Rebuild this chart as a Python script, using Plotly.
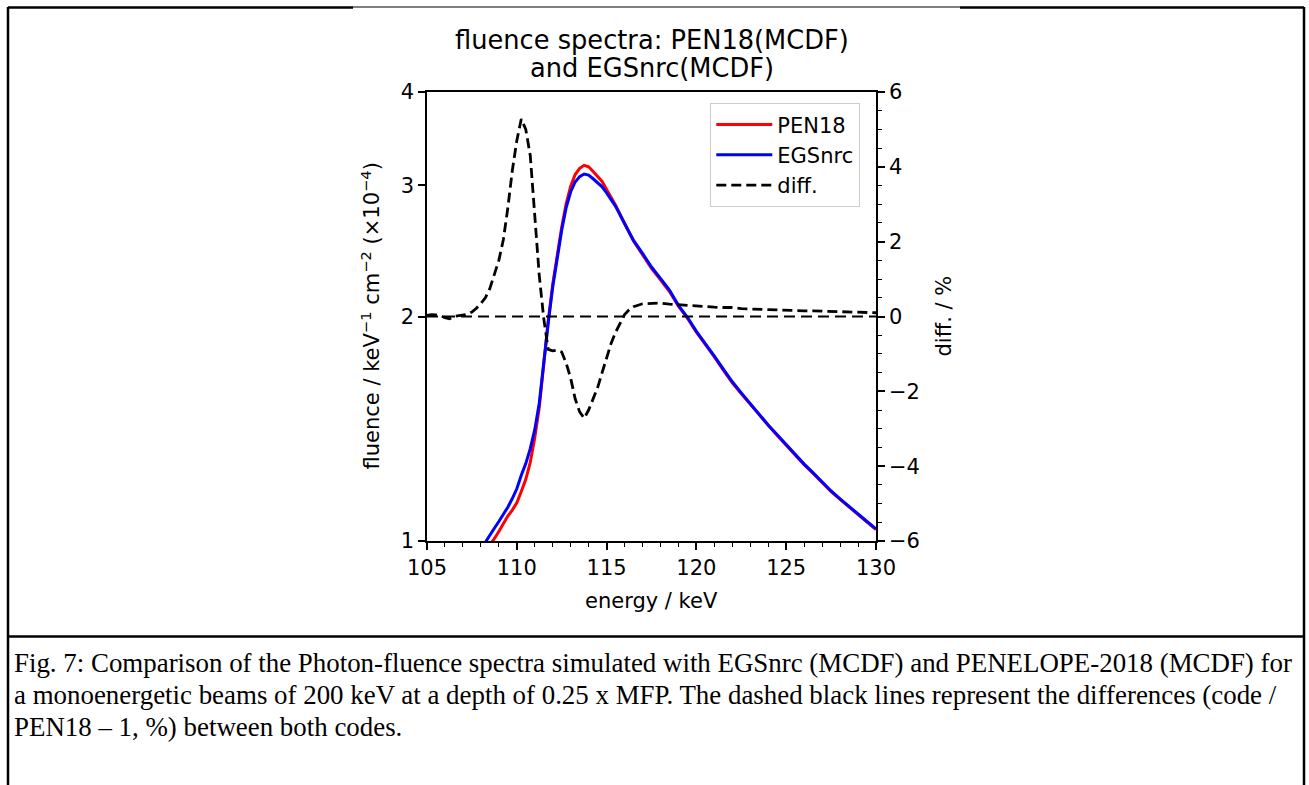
import plotly.graph_objects as go

# ---------------- data ----------------
energy_fluence = [108.0, 108.25, 108.5, 108.75, 109.0, 109.25, 109.5, 109.75, 110.0, 110.25,
                  110.5, 110.75, 111.0, 111.25, 111.5, 111.75, 112.0, 112.25, 112.5, 112.75,
                  113.0, 113.25, 113.5, 113.75, 114.0, 114.25, 114.5, 114.75, 115.0, 115.5,
                  116.0, 116.5, 117.0, 117.5, 118.0, 118.5, 119.0, 119.5, 120.0, 120.5,
                  121.0, 121.5, 122.0, 122.5, 123.0, 123.5, 124.0, 124.5, 125.0, 125.5,
                  126.0, 126.5, 127.0, 127.5, 128.0, 128.5, 129.0, 129.5, 130.0]

pen18 = [0.955, 0.972, 0.988, 1.007, 1.030, 1.055, 1.080, 1.100, 1.125, 1.165,
         1.210, 1.275, 1.375, 1.510, 1.740, 1.975, 2.210, 2.420, 2.635, 2.835,
         2.990, 3.100, 3.160, 3.190, 3.175, 3.130, 3.080, 3.035, 2.960, 2.820,
         2.665, 2.525, 2.420, 2.320, 2.240, 2.160, 2.065, 1.990, 1.905, 1.835,
         1.765, 1.695, 1.630, 1.575, 1.525, 1.475, 1.427, 1.385, 1.344, 1.304,
         1.266, 1.232, 1.198, 1.165, 1.137, 1.110, 1.085, 1.060, 1.036]

egsnrc = [0.975, 0.995, 1.015, 1.040, 1.062, 1.085, 1.110, 1.140, 1.175, 1.225,
          1.270, 1.330, 1.410, 1.530, 1.740, 1.960, 2.190, 2.400, 2.610, 2.800,
          2.940, 3.030, 3.080, 3.105, 3.095, 3.060, 3.020, 2.985, 2.930, 2.810,
          2.665, 2.530, 2.430, 2.330, 2.250, 2.170, 2.070, 1.995, 1.910, 1.840,
          1.770, 1.700, 1.635, 1.580, 1.528, 1.478, 1.430, 1.388, 1.346, 1.306,
          1.268, 1.234, 1.200, 1.167, 1.139, 1.112, 1.087, 1.062, 1.038]

energy_diff = [105.0, 105.25, 105.5, 105.75, 106.0, 106.25, 106.5, 106.75, 107.0, 107.25,
               107.5, 107.75, 108.0, 108.25, 108.5, 108.75, 109.0, 109.25, 109.5, 109.75,
               110.0, 110.25, 110.5, 110.75, 111.0, 111.25, 111.5, 111.75, 112.0, 112.25,
               112.5, 112.75, 113.0, 113.25, 113.5, 113.75, 114.0, 114.25, 114.5, 114.75,
               115.0, 115.25, 115.5, 115.75, 116.0, 116.25, 116.5, 117.0, 117.5, 118.0,
               118.5, 119.0, 119.5, 120.0, 120.5, 121.0, 121.5, 122.0, 122.5, 123.0,
               123.5, 124.0, 124.5, 125.0, 125.5, 126.0, 126.5, 127.0, 127.5, 128.0,
               128.5, 129.0, 129.5, 130.0]

diff_pct = [0.03, 0.05, 0.04, 0.02, -0.03, -0.06, 0.00, 0.02, 0.03, 0.06,
            0.12, 0.22, 0.35, 0.50, 0.75, 1.10, 1.50, 2.05, 2.90, 3.90,
            4.70, 5.28, 5.00, 4.30, 2.70, 1.10, -0.05, -0.88, -0.92, -0.90,
            -0.95, -1.25, -1.65, -2.20, -2.55, -2.72, -2.50, -2.20, -1.90, -1.50,
            -1.10, -0.72, -0.42, -0.18, 0.05, 0.18, 0.26, 0.34, 0.36, 0.36,
            0.33, 0.31, 0.29, 0.28, 0.27, 0.25, 0.24, 0.24, 0.21, 0.20,
            0.19, 0.18, 0.17, 0.17, 0.16, 0.15, 0.15, 0.14, 0.13, 0.13,
            0.12, 0.12, 0.11, 0.10]

zero_x = [105.0, 130.0]
zero_y = [0.0, 0.0]

left_ticks = [1, 2, 3, 4]
right_ticks = [-6, -4, -2, 0, 2, 4, 6]
x_ticks = [105, 110, 115, 120, 125, 130]

title_lines = ["fluence spectra: PEN18(MCDF)", "and EGSnrc(MCDF)"]
caption_lines = [
    "Fig. 7: Comparison of the Photon-fluence spectra simulated with EGSnrc (MCDF) and PENELOPE-2018 (MCDF) for",
    "a monoenergetic beams of 200 keV at a depth of 0.25 x MFP. The dashed black lines represent the differences (code /",
    "PEN18 \u2013 1, %) between both codes.",
]

# ---------------- geometry ----------------
W, H = 1309, 785
PL, PR, PT, PB = 427, 876, 92, 541  # plot area in pixels


def px(xp):
    return (xp - PL) / (PR - PL)


def py(yp):
    return (PB - yp) / (PB - PT)


FONT = "DejaVu Sans"

fig = go.Figure()

fig.add_trace(go.Scatter(x=energy_fluence, y=pen18, name="PEN18", mode="lines",
                         line=dict(color="#ff0000", width=3), yaxis="y"))
fig.add_trace(go.Scatter(x=energy_fluence, y=egsnrc, name="EGSnrc", mode="lines",
                         line=dict(color="#0000ff", width=3), yaxis="y"))
fig.add_trace(go.Scatter(x=energy_diff, y=diff_pct, name="diff.", mode="lines",
                         line=dict(color="black", width=2.8, dash="10px,5px"), yaxis="y2"))
fig.add_trace(go.Scatter(x=zero_x, y=zero_y, showlegend=False, mode="lines",
                         line=dict(color="black", width=2.2, dash="11px,6px"), yaxis="y2"))

axis_common = dict(showgrid=False, zeroline=False, linecolor="black", linewidth=1.6,
                   ticks="outside", tickcolor="black", tickwidth=1.6, ticklen=7,
                   tickfont=dict(family=FONT, size=21, color="black"))

fig.update_layout(
    width=W, height=H,
    margin=dict(l=PL, r=W - PR, t=PT, b=H - PB, autoexpand=False),
    paper_bgcolor="white", plot_bgcolor="white",
    font=dict(family=FONT, color="black"),
    xaxis=dict(range=[105, 130], tickvals=x_ticks, mirror=True,
               minor=dict(dtick=1, ticks="outside", ticklen=4, tickwidth=1.3, tickcolor="black"),
               **axis_common),
    yaxis=dict(type="log", range=[0, 0.60206], tickvals=left_ticks,
               ticktext=[str(t) for t in left_ticks], **axis_common),
    yaxis2=dict(overlaying="y", side="right", range=[-6, 6], tickvals=right_ticks,
                ticktext=[("\u2212" + str(-t)) if t < 0 else str(t) for t in right_ticks],
                minor=dict(dtick=0.5, ticks="outside", ticklen=4, tickwidth=1.3, tickcolor="black"),
                **axis_common),
    legend=dict(x=px(710), y=py(103), xanchor="left", yanchor="top",
                bgcolor="rgba(255,255,255,0.8)", bordercolor="#cccccc", borderwidth=1.3,
                font=dict(family=FONT, size=21, color="black"), tracegroupgap=0,
                itemwidth=56),
    showlegend=True,
)

ann = []
for t, yy in zip(title_lines, [40, 68]):
    ann.append(dict(text=t, x=0.5, y=py(yy), xref="paper", yref="paper",
                    xanchor="center", yanchor="middle", showarrow=False,
                    font=dict(family=FONT, size=25.7, color="black")))
ann.append(dict(text="energy / keV", x=0.5, y=py(601), xref="paper", yref="paper",
                xanchor="center", yanchor="middle", showarrow=False,
                font=dict(family=FONT, size=21, color="black")))
ann.append(dict(text="fluence / keV<sup>\u22121</sup> cm<sup>\u22122</sup> (\u00d710<sup>\u22124</sup>)",
                x=px(370), y=0.5, xref="paper", yref="paper", textangle=-90,
                xanchor="center", yanchor="middle", showarrow=False,
                font=dict(family=FONT, size=21, color="black")))
ann.append(dict(text="diff. / %", x=px(943), y=0.5, xref="paper", yref="paper", textangle=-90,
                xanchor="center", yanchor="middle", showarrow=False,
                font=dict(family=FONT, size=21, color="black")))
cap_y = [663, 695, 727]
for t, yy in zip(caption_lines, cap_y):
    ann.append(dict(text=t, x=px(12), y=py(yy), xref="paper", yref="paper",
                    xanchor="left", yanchor="middle", showarrow=False,
                    font=dict(family="Liberation Serif", size=26.9, color="black")))
fig.update_layout(annotations=ann)

# document frame lines
shapes = []


def seg(x0, y0, x1, y1, w):
    shapes.append(dict(type="line", xref="paper", yref="paper",
                       x0=px(x0), y0=py(y0), x1=px(x1), y1=py(y1),
                       line=dict(color="black", width=w)))


seg(8, 7, 8, 785, 2.5)          # left border
seg(1304, 7, 1304, 785, 2.5)    # right border
seg(8, 7.5, 353, 7.5, 2.5)      # top, thick part
seg(353, 7, 960, 7, 1)          # top, thin part
seg(960, 7.5, 1304, 7.5, 2.5)   # top, thick part
seg(8, 636.5, 1304, 636.5, 2.5) # separator above caption
fig.update_layout(shapes=shapes)

fig.write_html("out.html")
